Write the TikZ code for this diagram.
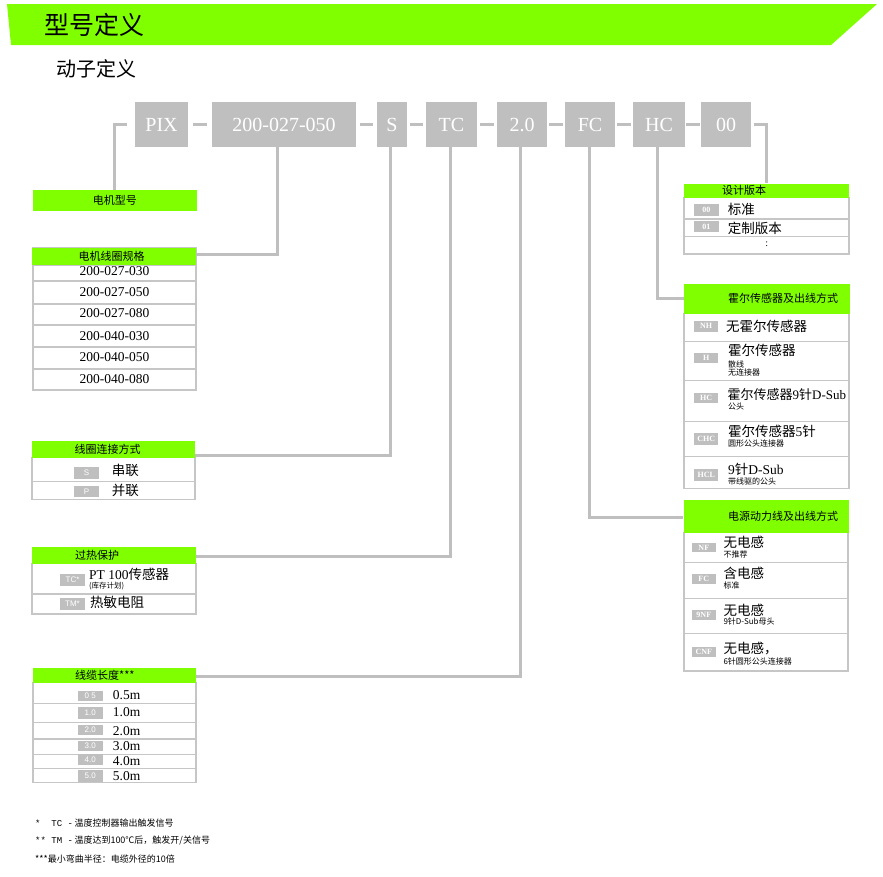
\documentclass[tikz,border=0pt]{standalone}
\usepackage{fontspec}
\setmainfont{Liberation Serif}
\newfontfamily\zhfont{Noto Sans CJK SC}
\newfontfamily\footmono{Liberation Mono}
\newfontfamily\lsans{Liberation Sans}
\newcommand{\zh}[1]{{\zhfont #1}}
\definecolor{lime}{HTML}{80FF00}
\definecolor{gbox}{HTML}{BFBFBF}
\definecolor{bord}{HTML}{C6C6C6}
\tikzset{
 conn/.style={draw=gbox, line width=3},
 codebox/.style={fill=gbox, text=white, minimum height=45, inner sep=0, font=\fontsize{20}{20}\selectfont},
 hdr/.style={fill=lime, inner sep=0, anchor=north west},
 htext/.style={inner sep=0, font=\zhfont\fontsize{11}{11}\selectfont},
 rowbox/.style={draw=bord, line width=1.5},
 badge/.style={fill=gbox, text=white, inner sep=0, minimum width=24.5, font=\bfseries\fontsize{8}{8}\selectfont},
 sbadge/.style={badge, font=\lsans\fontsize{8}{8}\selectfont},
 itm/.style={inner sep=0, anchor=west, font=\fontsize{13.5}{14}\selectfont},
 subnote/.style={inner sep=0, anchor=west, font=\zhfont\fontsize{8}{9}\selectfont},
 foot/.style={inner sep=0, anchor=west, font=\zhfont\fontsize{9}{10}\selectfont},
}
\begin{document}
\begin{tikzpicture}[x=1pt,y=-1pt]
\useasboundingbox (0,0) rectangle (883,876);

% title band
\fill[lime] (7,4) -- (877,4) -- (831,45) -- (11,45) -- cycle;
\node[anchor=west, inner sep=0, font=\zhfont\fontsize{25}{25}\selectfont] (title) at (44,25) {型号定义};
\node[anchor=west, inner sep=0, font=\zhfont\fontsize{20}{20}\selectfont] (subtitle) at (56,69) {动子定义};

% code boxes
\node[codebox, minimum width=53] (bpix) at (161.5,124.5) {PIX};
\node[codebox, minimum width=144] (b200) at (284,124.5) {200-027-050};
\node[codebox, minimum width=30] (bs) at (392,124.5) {S};
\node[codebox, minimum width=51] (btc) at (451.5,124.5) {TC};
\node[codebox, minimum width=50] (b20) at (522,124.5) {2.0};
\node[codebox, minimum width=50] (bfc) at (590,124.5) {FC};
\node[codebox, minimum width=52] (bhc) at (659,124.5) {HC};
\node[codebox, minimum width=50] (b00) at (726,124.5) {00};

\foreach \a/\b/\s in {bpix/b200/5.25, b200/bs/3.75, bs/btc/2.75, btc/b20/3.25, b20/bfc/2.25, bfc/bhc/2.25, bhc/b00/1.25}
  \draw[conn, shorten <=\s, shorten >=\s] (\a.east) -- (\b.west);

% ---------- left tables ----------
% motor type
\node[hdr, minimum width=164, minimum height=20.7] (mth) at (32.7,190) {};
\node[htext] (mtt) at (mth.center) {电机型号};

% coil spec
\draw[rowbox] (33,248) rectangle (196,390);
\foreach \ya/\yb in {265/281, 281/304, 304/325, 325/347, 347/369, 369/390}
  \draw[rowbox] (33,\ya) rectangle (196,\yb);
\node[hdr, minimum width=164, minimum height=17] (coilh) at (32,248) {};
\node[htext, anchor=west] (coilt) at (78.3,256.5) {电机线圈规格};
\node[itm, anchor=center] (c1) at (114.5,271) {200-027-030};
\node[itm, anchor=center] (c2) at (114.5,292) {200-027-050};
\node[itm, anchor=center] (c3) at (114.5,313.5) {200-027-080};
\node[itm, anchor=center] (c4) at (114.5,336.5) {200-040-030};
\node[itm, anchor=center] (c5) at (114.5,357.5) {200-040-050};
\node[itm, anchor=center] (c6) at (114.5,379.5) {200-040-080};

% coil connection
\draw[rowbox] (32,457.7) rectangle (195,481.7);
\draw[rowbox] (32,481.7) rectangle (195,499.3);
\node[hdr, minimum width=163.3, minimum height=16.7] (ljh) at (31.7,441) {};
\node[htext, anchor=west] (ljt) at (74.3,449.3) {线圈连接方式};
\node[sbadge, minimum height=12.6] (bgs) at (86.5,473) {S};
\node[sbadge, minimum height=10.7] (bgp) at (86.5,491.3) {P};
\node[itm] (ljs) at (111.7,470.7) {\zh{串联}};
\node[itm] (ljp) at (111.7,490) {\zh{并联}};

% overheat protection
\draw[rowbox] (32,563.3) rectangle (196,594);
\draw[rowbox] (32,594) rectangle (196,614);
\node[hdr, minimum width=164, minimum height=16.6] (ohh) at (32,546.7) {};
\node[htext, anchor=west] (oht) at (75,555) {过热保护};
\node[sbadge, minimum height=12] (bgtc) at (72.5,580) {TC*};
\node[sbadge, minimum height=12] (bgtm) at (72.5,604) {TM*};
\node[itm] (oh1) at (89,574.3) {PT 100\zh{传感器}};
\node[subnote, font=\zhfont\fontsize{7.5}{8}\selectfont] (oh1n) at (89,586.5) {(库存计划)};
\node[itm] (oh2) at (90,602) {\zh{热敏电阻}};

% cable length
\draw[rowbox] (33,682.7) rectangle (196,782.7);
\foreach \ya/\yb in {682.7/703.3, 703.3/722.3, 722.3/739, 739/754.3, 754.3/768.3, 768.3/782.7}
  \draw[rowbox] (33,\ya) rectangle (196,\yb);
\node[hdr, minimum width=163.3, minimum height=14.7] (clh) at (32.7,668) {};
\node[htext, anchor=west] (clt) at (75,675.3) {线缆长度***};
\node[sbadge, minimum height=10] (bl1) at (90.3,695.7) {0 5};
\node[sbadge, minimum height=12.6] (bl2) at (90.3,713) {1.0};
\node[sbadge, minimum height=10] (bl3) at (90.3,730) {2.0};
\node[sbadge, minimum height=9.7] (bl4) at (90.3,745.8) {3.0};
\node[sbadge, minimum height=10.7] (bl5) at (90.3,759.7) {4.0};
\node[sbadge, minimum height=11.7] (bl6) at (90.3,775.8) {5.0};
\node[itm] (l1) at (112.7,695) {0.5m};
\node[itm] (l2) at (112.7,711.7) {1.0m};
\node[itm] (l3) at (112.7,730.7) {2.0m};
\node[itm] (l4) at (112.7,746) {3.0m};
\node[itm] (l5) at (112.7,760.7) {4.0m};
\node[itm] (l6) at (112.7,775.7) {5.0m};

% ---------- right tables ----------
% design version
\draw[rowbox] (684,197.7) rectangle (849,219);
\draw[rowbox] (684,219) rectangle (849,236.7);
\draw[rowbox] (684,236.7) rectangle (849,254);
\node[hdr, minimum width=165, minimum height=14.4] (dvh) at (684,183.3) {};
\node[htext, anchor=west] (dvt) at (722,190.5) {设计版本};
\node[badge, minimum height=11.4] (bv0) at (706.3,210) {00};
\node[badge, minimum height=11.6] (bv1) at (706.3,226.5) {01};
\node[itm] (dv1) at (727.7,209.3) {\zh{标准}};
\node[itm] (dv2) at (727.7,228.3) {\zh{定制版本}};
\node[inner sep=0, font=\fontsize{10}{10}\selectfont] (dv3) at (766.7,244.3) {:};

% hall sensor
\foreach \ya/\yb in {313.3/341.7, 341.7/380.7, 380.7/421.7, 421.7/456.7, 456.7/488.3}
  \draw[rowbox] (684,\ya) rectangle (849,\yb);
\node[hdr, minimum width=165.3, minimum height=30] (hallh) at (684,283.3) {};
\node[htext, anchor=west] (hallt) at (728,298) {霍尔传感器及出线方式};
\node[badge, minimum height=11] (bnh) at (706.2,326.2) {NH};
\node[badge, minimum height=10.6] (bh) at (706.2,358) {H};
\node[badge, minimum height=10] (bhc2) at (706.2,397.5) {HC};
\node[badge, minimum height=11.7] (bchc) at (706.2,439.2) {CHC};
\node[badge, minimum height=11.4] (bhcl) at (706.2,475) {HCL};
\node[itm] (h1) at (726,326) {\zh{无霍尔传感器}};
\node[itm] (h2) at (728,350.7) {\zh{霍尔传感器}};
\node[subnote] (h2a) at (728,364.3) {散线};
\node[subnote] (h2b) at (728,372.3) {无连接器};
\node[itm, font=\fontsize{13}{14}\selectfont] (h3) at (727.5,395) {\zh{霍尔传感器}9\zh{针}D-Sub};
\node[subnote] (h3a) at (728,406.7) {公头};
\node[itm] (h4) at (728,431.7) {\zh{霍尔传感器}5\zh{针}};
\node[subnote] (h4a) at (728,443.3) {圆形公头连接器};
\node[itm] (h5) at (728,469.3) {9\zh{针}D-Sub};
\node[subnote] (h5a) at (728,481.7) {带线驱的公头};

% power cable
\foreach \ya/\yb in {532.3/562.3, 562.3/598.3, 598.3/633.3, 633.3/671}
  \draw[rowbox] (684,\ya) rectangle (848,\yb);
\node[hdr, minimum width=165, minimum height=32.3] (pwh) at (683.3,500) {};
\node[htext, anchor=west] (pwt) at (728,516.7) {电源动力线及出线方式};
\node[badge, minimum height=9.6] (bnf) at (703.8,547.5) {NF};
\node[badge, minimum height=10] (bfc2) at (703.8,579.3) {FC};
\node[badge, minimum height=10] (b9nf) at (703.8,615) {9NF};
\node[badge, minimum height=10] (bcnf) at (703.8,651.7) {CNF};
\node[itm] (p1) at (723.3,542.7) {\zh{无电感}};
\node[subnote] (p1a) at (723.3,554.3) {不推荐};
\node[itm] (p2) at (723.3,573.3) {\zh{含电感}};
\node[subnote] (p2a) at (723.3,585.7) {标准};
\node[itm] (p3) at (723.3,610) {\zh{无电感}};
\node[subnote] (p3a) at (723.3,621.7) {9针D-Sub母头};
\node[itm] (p4) at (723.3,649) {\zh{无电感，}};
\node[subnote] (p4a) at (723.3,661.7) {6针圆形公头连接器};

% ---------- connectors ----------
\draw[conn, shorten <=8] (bpix.west) -| (mth.north);
\draw[conn, shorten <=2.5] (b00.east) -| (dvh.north);
\draw[conn] ([xshift=-7]b200.south) |- ([yshift=2.5]coilh.east);
\draw[conn] ([xshift=-2]bs.south) |- ([yshift=-5.7]ljh.east);
\draw[conn] ([xshift=-1.5]btc.south) |- ([yshift=-1.7]ohh.east);
\draw[conn] ([xshift=-2]b20.south) |- ([yshift=-0.7]clh.east);
\draw[conn] ([xshift=-1]bfc.south) |- ([yshift=-0.8]pwh.west);
\draw[conn] ([xshift=-2]bhc.south) |- (hallh.west);

% ---------- footnotes ----------
\node[foot] (f1) at (35,822.7) {{\footmono *\ \ TC -}\,温度控制器输出触发信号};
\node[foot] (f2) at (35,840.7) {{\footmono **\ TM -}\,温度达到100℃后，触发开/关信号};
\node[foot] (f3) at (35,859.3) {***最小弯曲半径：电缆外径的10倍};
\end{tikzpicture}
\end{document}
